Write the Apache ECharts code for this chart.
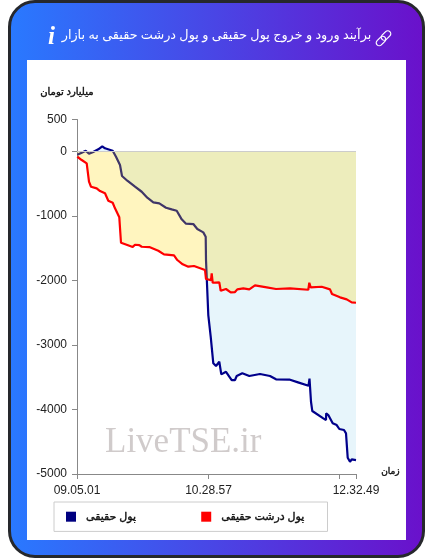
<!DOCTYPE html>
<html><head><meta charset="utf-8">
<style>
html,body{margin:0;padding:0;background:#fff;width:433px;height:559px;overflow:hidden}
#card{position:absolute;left:8px;top:0;width:417px;height:558px;box-sizing:border-box;border:3px solid #26282c;border-radius:27px;background:linear-gradient(90deg,#2979ff,#6a11cb)}
#panel{position:absolute;left:27px;top:60px;width:379px;height:480px;background:#fff}
#chart{position:absolute;left:0;top:0;width:433px;height:559px}
</style></head><body>
<div id="card"></div><div id="panel"></div><div id="chart"></div>
<script src="https://cdn.jsdelivr.net/npm/echarts@6/dist/echarts.min.js"></script>
<script>
const chartTitle = 'برآیند ورود و خروج پول حقیقی و پول درشت حقیقی به بازار';
const yUnit = 'میلیارد تومان';
const xUnit = 'زمان';
const watermark = 'LiveTSE.ir';
const realName = 'پول حقیقی';
const largeName = 'پول درشت حقیقی';
const xTickPositions = [0, 131.5, 262.5, 279];
const xLabelPositions = [0, 131.5, 279];
const xTickLabels = ['09.05.01', '10.28.57', '12.32.49'];
const realX = [0.3,4.7,8.7,12,15.7,21.3,25.3,28,35.7,39,43,45,50.3,58,64.7,70.3,76.3,82.3,89,94.7,99.7,104.7,109,116.3,120.3,126.3,128.7,129,129.7,131.3,133.7,136.3,139,142.3,144.3,149,154.7,158,159.7,165.3,172.3,183,193,199,212.3,221,231.5,232.5,234,235.3,246.3,249,249.2,251.3,255.7,259.7,262.3,267,269,270.7,273,274.7,279];
const realY = [-47,-16,16,-31,-9,37,84,53,16,-78,-206,-377,-450,-543,-621,-714,-785,-801,-869,-894,-915,-1049,-1117,-1122,-1199,-1251,-1319,-1680,-1940,-2534,-2870,-3283,-3325,-3258,-3454,-3414,-3542,-3542,-3480,-3438,-3480,-3449,-3480,-3531,-3535,-3578,-3631,-3519,-3879,-4023,-4137,-4163,-4059,-4085,-4214,-4241,-4302,-4318,-4369,-4748,-4810,-4773,-4784];
const largeX = [0.3,4.7,9.7,12,14,19.7,23,28,31.3,35.7,38,42.3,44,50.3,55.7,58,62.3,64.7,72.3,81.3,87,97,100.3,105.7,111.3,117,128,129,134,134.7,135.7,142.3,143.7,149,153.7,158,160.3,166.3,172.3,178,189.7,199,213,231.3,232.3,233.7,244.7,253,255,263,269.7,274.7,279];
const largeY = [-78,-129,-180,-465,-543,-568,-610,-645,-760,-791,-878,-1018,-1412,-1448,-1479,-1443,-1448,-1474,-1479,-1536,-1592,-1607,-1680,-1747,-1784,-1773,-1835,-1975,-1991,-1887,-2033,-2026,-2157,-2130,-2182,-2177,-2135,-2120,-2135,-2073,-2104,-2130,-2120,-2141,-2033,-2104,-2095,-2135,-2208,-2259,-2290,-2337,-2343];

const faFont = '"Noto Sans", "DejaVu Sans", sans-serif';
const latin = '"Liberation Sans", Arial, sans-serif';
const chart = echarts.init(document.getElementById('chart'), null, {renderer:'canvas'});
const lineSeries = (name, xs, ys, color, area, z) => ({
  name, type:'line', data: xs.map((x,i)=>[x,ys[i]]), showSymbol:false, symbol:'none', z,
  lineStyle:{color, width:2.2}, itemStyle:{color},
  areaStyle:{color:area, opacity:1, origin:0}, animation:false, silent:true
});
const blue = lineSeries(realName, realX, realY, '#00008b', 'rgba(135,206,235,0.2)', 2);
blue.itemStyle.color = '#000080';
blue.markLine = {silent:true, symbol:'none', label:{show:false}, animation:false,
  lineStyle:{color:'#cccccc', width:1, type:'solid'}, data:[{yAxis:0}]};
const red = lineSeries(largeName, largeX, largeY, '#ff0000', 'rgba(255,215,0,0.25)', 3);

chart.setOption({
  animation:false,
  backgroundColor:'transparent',
  title:{text:chartTitle, left:'center', top:24, textStyle:{color:'#fff', fontSize:12.8, fontWeight:'normal', fontFamily:faFont}},
  grid:{left:77, right:77, top:119.5, bottom:85},
  xAxis:{type:'value', min:0, max:279, splitLine:{show:false},
    axisLine:{lineStyle:{color:'#888', width:1}, onZero:false},
    axisTick:{show:true, length:5, lineStyle:{color:'#888'}, customValues:xTickPositions},
    axisLabel:{customValues:xLabelPositions, margin:11, fontSize:12, color:'#222', fontFamily:latin,
      formatter:v=>xTickLabels[xLabelPositions.indexOf(v)] ?? ''}},
  yAxis:{type:'value', min:-5000, max:500, interval:1000, splitLine:{show:false},
    axisLine:{show:true, onZero:false, lineStyle:{color:'#888', width:1}},
    axisTick:{show:true, length:5, lineStyle:{color:'#888'}},
    axisLabel:{margin:10, fontSize:12, color:'#222', fontFamily:latin, formatter:v=>String(v)}},
  legend:{left:54, top:502, orient:'horizontal', icon:'rect', itemWidth:10, itemHeight:10, itemGap:65,
    padding:[9,23,9,12], borderColor:'#ccc', borderWidth:1, borderRadius:0, selectedMode:false,
    data:[realName, largeName], inactiveColor:'#000',
    itemStyle:{opacity:1}, lineStyle:{opacity:0},
    textStyle:{fontSize:11, fontWeight:'normal', color:'#111', fontFamily:faFont, padding:[0,0,0,5],
      textBorderColor:'#111', textBorderWidth:0.4}},
  series:[blue, red],
  graphic:[
    {type:'text', left:40, top:87, z:10, style:{text:yUnit, fill:'#111', stroke:'#111', lineWidth:0.4, font:'10px '+faFont}},
    {type:'text', left:381, top:467, z:10, style:{text:xUnit, fill:'#111', stroke:'#111', lineWidth:0.4, font:'9px '+faFont}},
    {type:'text', left:105, top:425, z:10, style:{text:watermark, fill:'rgba(170,160,160,0.55)', font:'35px "Liberation Serif", serif'}},
    {type:'text', left:48, top:25, z:10, style:{text:'i', fill:'#fff', font:'italic bold 25px "Liberation Serif", serif'}},
    {type:'rect', x:381, y:41, rotation:-Math.PI/4, z:10, silent:true,
      shape:{x:-3,y:-5.5,width:6,height:11,r:3}, style:{fill:'none', stroke:'#fff', lineWidth:1.2}},
    {type:'rect', x:386, y:35.5, rotation:-Math.PI/4, z:10, silent:true,
      shape:{x:-3,y:-5.5,width:6,height:11,r:3}, style:{fill:'none', stroke:'#fff', lineWidth:1.2}}
  ]
});
</script>
</body></html>
